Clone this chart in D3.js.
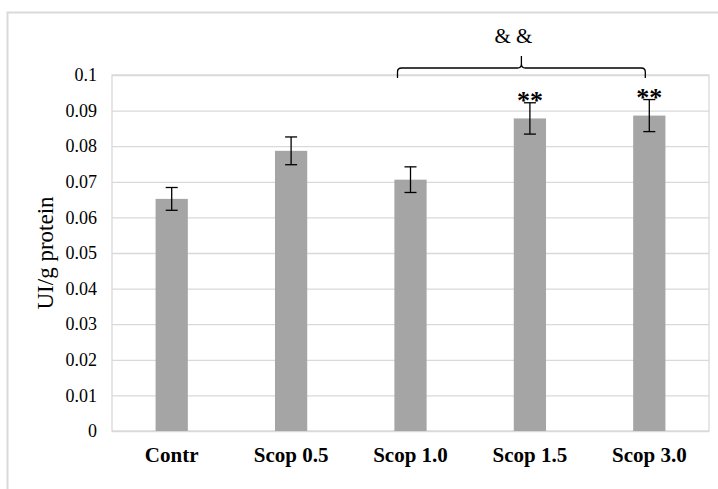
<!DOCTYPE html>
<html>
<head>
<meta charset="utf-8">
<script src="https://cdn.jsdelivr.net/npm/d3@7"></script>
<style>
    body { margin: 0; background: #fff; }
    svg { display: block; font-family: "Liberation Serif", "Times New Roman", serif; }
</style>
</head>
<body>
<div class="static-image"></div>
<script>
var categories = ["Contr", "Scop 0.5", "Scop 1.0", "Scop 1.5", "Scop 3.0"];
var means = [0.0652, 0.0787, 0.0706, 0.0878, 0.0886];
var errors = [0.0032, 0.0039, 0.0036, 0.0044, 0.0045];
var stars = ["", "", "", "**", "**"];
var yTicks = [0, 0.01, 0.02, 0.03, 0.04, 0.05, 0.06, 0.07, 0.08, 0.09, 0.1];
var yTickLabels = ["0", "0.01", "0.02", "0.03", "0.04", "0.05", "0.06", "0.07", "0.08", "0.09", "0.1"];
var yTitle = "UI/g protein";
var braceLabel = "& &";

var width = 718;
var height = 489;
var plot = { "left": 112, "right": 709, "top": 75, "bottom": 431 };
var barRatio = 0.27;

var data = categories.map(function (c, i) {
    return { name: c, value: means[i], err: errors[i], mark: stars[i] };
});

var x = d3.scaleBand()
    .domain(categories)
    .range([plot.left, plot.right])
    .padding(0);
var y = d3.scaleLinear()
    .domain([0, 0.1])
    .range([plot.bottom, plot.top]);

var svg = d3.select(".static-image")
    .append("svg")
    .attr("width", width)
    .attr("height", height);

// outer frame
svg.append("rect")
    .attr("x", 7.5)
    .attr("y", 12.5)
    .attr("width", width)
    .attr("height", height)
    .attr("fill", "none")
    .attr("stroke", "#d9d9d9")
    .attr("stroke-width", 2);

// grid + tick labels
var yAxis = d3.axisLeft(y)
    .tickValues(yTicks)
    .tickSize(-(plot.right - plot.left))
    .tickPadding(15)
    .tickFormat(function (d, i) { return yTickLabels[i]; });

var gy = svg.append("g")
    .attr("transform", "translate(" + plot.left + ",0)")
    .call(yAxis)
    .attr("font-family", null)
    .attr("font-size", null);
gy.select(".domain").remove();
gy.selectAll("line").attr("stroke", "#d9d9d9").attr("stroke-width", 1.3);
gy.selectAll("text")
    .attr("fill", "#000")
    .style("font-family", "'Liberation Serif', serif")
    .style("font-size", "18px");

// plot border
svg.append("rect")
    .attr("x", plot.left)
    .attr("y", plot.top)
    .attr("width", plot.right - plot.left)
    .attr("height", plot.bottom - plot.top)
    .attr("fill", "none")
    .attr("stroke", "#d9d9d9")
    .attr("stroke-width", 1.3);

// bars
var bw = x.bandwidth() * barRatio;
function cx(d) { return x(d.name) + x.bandwidth() / 2; }

svg.selectAll(".bar")
    .data(data)
    .enter()
    .append("rect")
    .attr("class", "bar")
    .attr("x", function (d) { return cx(d) - bw / 2; })
    .attr("y", function (d) { return y(d.value); })
    .attr("width", bw)
    .attr("height", function (d) { return y(0) - y(d.value); })
    .attr("fill", "#a5a5a5");

// error bars
var cap = 6;
var eb = svg.selectAll(".err")
    .data(data)
    .enter()
    .append("g")
    .attr("class", "err")
    .attr("stroke", "#000")
    .attr("stroke-width", 1.3);
eb.append("line")
    .attr("x1", cx).attr("x2", cx)
    .attr("y1", function (d) { return y(d.value + d.err); })
    .attr("y2", function (d) { return y(d.value - d.err); });
eb.append("line")
    .attr("x1", function (d) { return cx(d) - cap; })
    .attr("x2", function (d) { return cx(d) + cap; })
    .attr("y1", function (d) { return y(d.value + d.err); })
    .attr("y2", function (d) { return y(d.value + d.err); });
eb.append("line")
    .attr("x1", function (d) { return cx(d) - cap; })
    .attr("x2", function (d) { return cx(d) + cap; })
    .attr("y1", function (d) { return y(d.value - d.err); })
    .attr("y2", function (d) { return y(d.value - d.err); });

// significance stars
svg.selectAll(".star")
    .data(data)
    .enter()
    .append("text")
    .attr("class", "star")
    .attr("x", cx)
    .attr("y", function (d) { return y(d.value + d.err) + 6; })
    .attr("text-anchor", "middle")
    .style("font-size", "26px")
    .style("font-weight", "bold")
    .text(function (d) { return d.mark; });

// x labels
svg.selectAll(".xlab")
    .data(data)
    .enter()
    .append("text")
    .attr("class", "xlab")
    .attr("x", cx)
    .attr("y", plot.bottom + 31)
    .attr("text-anchor", "middle")
    .style("font-size", "21px")
    .style("font-weight", "bold")
    .text(function (d) { return d.name; });

// y title
svg.append("text")
    .attr("transform", "translate(53," + ((plot.top + plot.bottom) / 2) + ") rotate(-90)")
    .attr("text-anchor", "middle")
    .style("font-size", "23px")
    .text(yTitle);

// brace over Scop 1.0 .. Scop 3.0
var bl = x("Scop 1.0") + x.bandwidth() / 2 - 13;
var br = x("Scop 3.0") + x.bandwidth() / 2 - 4;
var bm = (bl + br) / 2;
var by = y(0.1) - 7;
var r = 4;
var brace = d3.path();
brace.moveTo(bl, plot.top + 3);
brace.lineTo(bl, by + r);
brace.quadraticCurveTo(bl, by, bl + r, by);
brace.lineTo(bm - r, by);
brace.quadraticCurveTo(bm, by, bm, by - r);
brace.lineTo(bm, by - 12);
brace.moveTo(bm, by - r);
brace.quadraticCurveTo(bm, by, bm + r, by);
brace.lineTo(br - r, by);
brace.quadraticCurveTo(br, by, br, by + r);
brace.lineTo(br, plot.top + 3);

svg.append("path")
    .attr("d", brace.toString())
    .attr("fill", "none")
    .attr("stroke", "#000")
    .attr("stroke-width", 1.3);

svg.append("text")
    .attr("x", bm - 8)
    .attr("y", by - 25)
    .attr("text-anchor", "middle")
    .style("font-size", "21px")
    .text(braceLabel);
</script>
</body>
</html>
